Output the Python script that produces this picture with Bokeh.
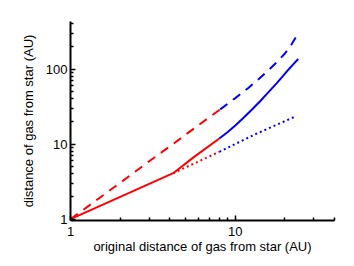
from bokeh.plotting import figure
from bokeh.models import FixedTicker, CustomJSTickFormatter
from bokeh.embed import file_html
from bokeh.resources import INLINE

# ---- data ----
solid_red_x = [1.0, 4.2, 5.6, 8.0]
solid_red_y = [1.0, 4.1, 6.7, 11.9]
solid_blue_x = [8.0, 9.0, 10.0, 11.1, 12.5, 14.1, 15.8, 17.8, 19.5, 21.0, 22.6, 24.1]
solid_blue_y = [11.9, 14.5, 17.7, 21.9, 28.2, 37.0, 48.5, 64.5, 81.0, 98.0, 117.0, 136.0]

dashed_red_x = [1.0, 2.0, 3.0, 4.0, 5.0, 6.0, 7.0, 8.1]
dashed_red_y = [1.0, 3.05, 5.9, 9.3, 13.4, 18.0, 23.0, 29.0]
dashed_blue_x = [8.1, 10.0, 12.0, 14.0, 16.0, 18.0, 20.0, 22.0, 24.1]
dashed_blue_y = [29.0, 41.0, 56.0, 75.0, 98.0, 126.0, 161.0, 215.0, 300.0]

dotted_red_x = [4.2, 8.0]
dotted_red_y = [4.1, 7.9]
dotted_blue_x = [8.0, 13.1, 23.5]
dotted_blue_y = [7.9, 13.4, 23.7]

x_major_ticks = [1, 10]
x_minor_ticks = [2, 3, 4, 5, 6, 7, 8, 9, 20, 30, 40]
y_major_ticks = [1, 10, 100]
y_minor_ticks = [2, 3, 4, 5, 6, 7, 8, 9, 20, 30, 40, 50, 60, 70, 80, 90, 200, 300, 400]

x_label = "original distance of gas from star (AU)"
y_label = "distance of gas from star (AU)"

RED = "#ff0000"
BLUE = "#0000ff"
FONT = "Liberation Sans"

p = figure(width=350, height=265, x_axis_type="log", y_axis_type="log",
           x_range=(1, 40), y_range=(0.96, 430),
           output_backend="svg", toolbar_location=None,
           min_border_left=70, min_border_right=16, min_border_top=21, min_border_bottom=45)
p.outline_line_color = None
p.xgrid.visible = False
p.ygrid.visible = False
p.background_fill_color = "white"
p.border_fill_color = "white"

fmt = CustomJSTickFormatter(code="return String(Math.round(tick));")

p.xaxis.ticker = FixedTicker(ticks=x_major_ticks, minor_ticks=x_minor_ticks)
p.yaxis.ticker = FixedTicker(ticks=y_major_ticks, minor_ticks=y_minor_ticks)
for ax in (p.xaxis, p.yaxis):
    ax.formatter = fmt
    ax.axis_line_width = 2
    ax.axis_line_color = "black"
    ax.major_tick_in = 5
    ax.major_tick_out = 0
    ax.minor_tick_in = 3
    ax.minor_tick_out = 0
    ax.major_tick_line_width = 1.5
    ax.minor_tick_line_width = 1.5
    ax.major_tick_line_color = "black"
    ax.minor_tick_line_color = "black"
    ax.major_label_text_font = FONT
    ax.major_label_text_font_size = "13px"
    ax.major_label_text_color = "black"
    ax.axis_label_text_font = FONT
    ax.axis_label_text_font_size = "13px"
    ax.axis_label_text_font_style = "normal"
    ax.axis_label_text_color = "black"

p.xaxis.axis_label = x_label
p.yaxis.axis_label = y_label
p.xaxis.major_label_standoff = 6
p.xaxis.axis_label_standoff = 0
p.yaxis.major_label_standoff = 3
p.yaxis.axis_label_standoff = 7

lw = 2
p.line(solid_red_x, solid_red_y, line_color=RED, line_width=lw)
p.line(solid_blue_x, solid_blue_y, line_color=BLUE, line_width=lw)
p.line(dashed_red_x, dashed_red_y, line_color=RED, line_width=lw, line_dash="9 7")
p.line(dashed_blue_x, dashed_blue_y, line_color=BLUE, line_width=lw, line_dash="9 7")
p.line(dotted_red_x, dotted_red_y, line_color=RED, line_width=lw, line_dash="2 3")
p.line(dotted_blue_x, dotted_blue_y, line_color=BLUE, line_width=lw, line_dash="2 3")

open("out.html", "w").write(file_html(p, INLINE))
